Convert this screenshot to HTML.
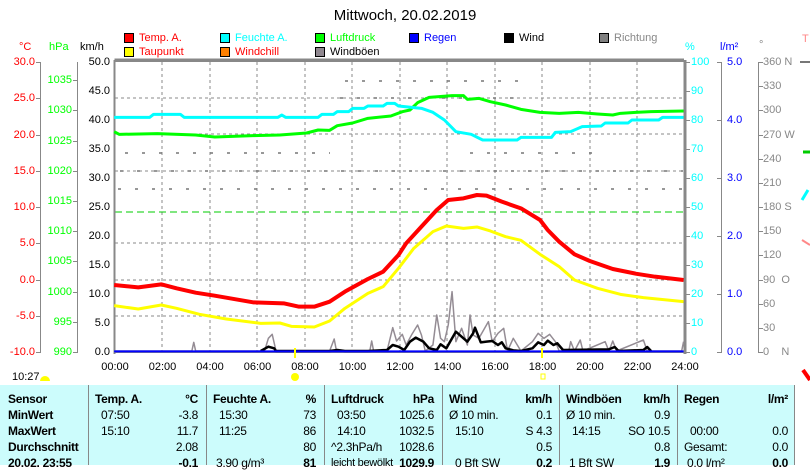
<!DOCTYPE html>
<html><head><meta charset="utf-8"><style>
body{margin:0;width:810px;height:465px;overflow:hidden;background:#fff;font-family:"Liberation Sans",Arial,sans-serif;position:relative}
.t{position:absolute;font-size:11px;line-height:12px;white-space:nowrap}
.r{text-align:right}
.tb{position:absolute;font-size:12px;line-height:14px;white-space:nowrap;letter-spacing:-0.3px}
.b{font-weight:bold}
</style></head><body>
<div class="t" style="left:0;width:810px;top:8px;text-align:center;font-size:15px;line-height:16px">Mittwoch, 20.02.2019</div>

<svg width="810" height="465" style="position:absolute;left:0;top:0">
<g stroke="#000" stroke-width="1">
<rect x="124.5" y="33.5" width="9" height="9" fill="#f00"/>
<rect x="220.5" y="33.5" width="9" height="9" fill="#0ff"/>
<rect x="315.5" y="33.5" width="9" height="9" fill="#0f0"/>
<rect x="409.5" y="33.5" width="9" height="9" fill="#00f"/>
<rect x="504.5" y="33.5" width="9" height="9" fill="#000"/>
<rect x="599.5" y="33.5" width="9" height="9" fill="#808080"/>
<rect x="124.5" y="47.5" width="9" height="9" fill="#ff0"/>
<rect x="220.5" y="47.5" width="9" height="9" fill="#ff8000"/>
<rect x="315.5" y="47.5" width="9" height="9" fill="#908890"/>
</g>
<g stroke="#888" stroke-width="1" stroke-dasharray="3,3">
<line x1="162" y1="62" x2="162" y2="352"/><line x1="210" y1="62" x2="210" y2="352"/>
<line x1="257" y1="62" x2="257" y2="352"/><line x1="305" y1="62" x2="305" y2="352"/>
<line x1="352" y1="62" x2="352" y2="352"/><line x1="400" y1="62" x2="400" y2="352"/>
<line x1="447" y1="62" x2="447" y2="352"/><line x1="495" y1="62" x2="495" y2="352"/>
<line x1="542" y1="62" x2="542" y2="352"/><line x1="590" y1="62" x2="590" y2="352"/>
<line x1="637" y1="62" x2="637" y2="352"/>
<line x1="115" y1="98" x2="683" y2="98"/><line x1="115" y1="134" x2="683" y2="134"/>
<line x1="115" y1="171" x2="683" y2="171"/><line x1="115" y1="243" x2="683" y2="243"/>
<line x1="115" y1="280" x2="683" y2="280"/><line x1="115" y1="316" x2="683" y2="316"/>
</g>
<line x1="115" y1="212" x2="683" y2="212" stroke="#0c0" stroke-dasharray="7,4"/>
<g stroke="#777" stroke-width="1.5" stroke-dasharray="3,14">
<line x1="345" y1="81" x2="520" y2="81"/>
<line x1="340" y1="98" x2="520" y2="98"/>
<line x1="125" y1="153" x2="330" y2="153"/><line x1="470" y1="153" x2="600" y2="153"/>
<line x1="120" y1="171" x2="683" y2="171"/>
<line x1="118" y1="189" x2="683" y2="189"/>
</g>
<rect x="114.5" y="61.5" width="570" height="291" fill="none" stroke="#888" stroke-width="1"/>
<line x1="114.5" y1="60" x2="684" y2="60" stroke="#888" stroke-width="3"/>
<line x1="685" y1="60" x2="685" y2="354" stroke="#888" stroke-width="3"/>
<line x1="114.5" y1="60" x2="114.5" y2="354" stroke="#888" stroke-width="2"/>
<g stroke="#888" stroke-width="1">
<line x1="40.5" y1="62" x2="40.5" y2="352"/>
<line x1="77.5" y1="62" x2="77.5" y2="352"/>
<line x1="721.5" y1="62" x2="721.5" y2="352"/>
<line x1="758.5" y1="62" x2="758.5" y2="352"/>
</g>
<g stroke="#888" stroke-width="1" id="ticks"></g>
<g transform="translate(100,55) scale(0.38267,0.33333)" fill="none" stroke-linejoin="round">
<polyline vector-effect="non-scaling-stroke" stroke="#948c94" stroke-width="1.5" points="37,888 240,888 245,862 250,888 430,888 440,850 450,838 460,888 600,888 612,852 618,888 705,888 710,858 715,888 750,888 765,818 775,858 790,838 800,870 815,838 830,810 840,840 850,888 870,870 880,780 890,850 900,860 910,810 920,710 930,860 945,820 960,870 967,780 975,840 990,850 1015,800 1025,860 1040,835 1055,820 1065,888 1080,850 1100,888 1130,860 1145,835 1160,850 1175,838 1190,860 1200,888 1225,888 1230,860 1240,888 1255,855 1262,888 1320,860 1330,888 1340,858 1350,888 1420,855 1430,888 1520,888 1525,860"/>
<polyline vector-effect="non-scaling-stroke" stroke="#000" stroke-width="2.5" points="420,888 440,875 455,880 460,888 600,888 620,885 640,888 700,888 750,885 765,870 780,875 795,885 810,860 825,848 845,860 860,880 880,885 890,868 905,880 915,860 930,830 945,845 960,860 975,835 980,818 995,862 1010,860 1025,858 1040,870 1050,862 1060,880 1080,886 1100,888 1130,880 1145,862 1160,870 1170,857 1185,870 1195,865 1210,885 1330,883 1345,876 1355,888 1420,885 1430,876 1440,888"/>
<polyline vector-effect="non-scaling-stroke" stroke="#0000ff" stroke-width="2" points="37,889 1525,889"/>
<polyline vector-effect="non-scaling-stroke" stroke="#ffff00" stroke-width="3" points="37,752 100,762 160,750 200,760 260,778 330,792 420,805 470,804 500,814 560,816 600,798 640,760 700,715 740,695 780,640 820,580 870,530 905,513 950,520 985,516 1020,528 1060,545 1100,556 1150,598 1200,635 1240,675 1300,700 1360,718 1420,728 1525,740"/>
<polyline vector-effect="non-scaling-stroke" stroke="#ff0000" stroke-width="4" points="37,690 100,697 160,688 200,700 250,713 300,722 400,742 480,745 520,755 560,755 600,740 640,710 700,672 740,650 780,600 800,565 840,515 880,465 910,435 950,430 985,420 1010,422 1050,440 1100,460 1150,495 1170,525 1200,560 1240,598 1280,618 1340,642 1400,656 1450,665 1525,675"/>
<polyline vector-effect="non-scaling-stroke" stroke="#00ff00" stroke-width="3" points="37,230 50,238 150,236 250,240 300,246 400,242 470,240 540,234 570,225 600,226 620,212 660,204 700,190 760,183 790,170 810,165 830,143 860,127 920,122 950,122 960,133 990,130 1020,140 1060,150 1100,163 1150,172 1200,175 1250,172 1300,177 1340,180 1360,175 1400,172 1440,170 1525,168"/>
<polyline vector-effect="non-scaling-stroke" stroke="#00ffff" stroke-width="3" points="37,187 130,187 140,178 210,178 220,187 465,187 475,180 485,187 570,187 580,178 610,178 620,170 650,170 660,160 690,160 700,153 740,153 750,145 770,145 780,153 840,160 870,172 900,195 930,230 970,238 1000,255 1090,255 1100,247 1180,247 1190,232 1230,230 1260,215 1310,213 1320,204 1380,204 1390,195 1460,195 1470,187 1525,187"/>
</g>
<line x1="295" y1="348" x2="295" y2="358" stroke="#ff0" stroke-width="2"/>
<line x1="542" y1="348" x2="542" y2="358" stroke="#ff0" stroke-width="2"/>
<circle cx="295" cy="377" r="4" fill="#ff0"/>
<rect x="541" y="374" width="4" height="5" fill="none" stroke="#ff0"/>
<path d="M40 381 a5 5 0 0 1 10 0 z" fill="#ff0"/>
<line x1="800" y1="62" x2="810" y2="62" stroke="#777" stroke-width="2"/>
<line x1="803" y1="152" x2="810" y2="152" stroke="#0c0" stroke-width="3"/>
<path d="M802 200 L808 190" stroke="#0ff" stroke-width="3"/>
<path d="M802 240 L810 245" stroke="#f88" stroke-width="2"/>
<path d="M803 370 L810 380" stroke="#f00" stroke-width="4"/>
<rect x="0" y="385" width="795" height="80" fill="#ccfcfc"/>
<g stroke="#888" stroke-width="1">
<line x1="88.5" y1="385" x2="88.5" y2="465"/><line x1="206.5" y1="385" x2="206.5" y2="465"/>
<line x1="324.5" y1="385" x2="324.5" y2="465"/><line x1="442.5" y1="385" x2="442.5" y2="465"/>
<line x1="559.5" y1="385" x2="559.5" y2="465"/><line x1="677.5" y1="385" x2="677.5" y2="465"/>
<line x1="794.5" y1="385" x2="794.5" y2="465"/>
</g>
</svg>

<div class="t" style="left:139px;top:32px;color:#f00">Temp. A.</div>
<div class="t" style="left:235px;top:32px;color:#0ff">Feuchte A.</div>
<div class="t" style="left:330px;top:32px;color:#0f0">Luftdruck</div>
<div class="t" style="left:424px;top:32px;color:#00f">Regen</div>
<div class="t" style="left:519px;top:32px;color:#000">Wind</div>
<div class="t" style="left:614px;top:32px;color:#888">Richtung</div>
<div class="t" style="left:139px;top:46px;color:#f00">Taupunkt</div>
<div class="t" style="left:235px;top:46px;color:#f00">Windchill</div>
<div class="t" style="left:330px;top:46px;color:#000">Windböen</div>

<div class="t" style="left:19px;top:41px;color:#f00">°C</div>
<div class="t" style="left:49px;top:41px;color:#0f0">hPa</div>
<div class="t" style="left:80px;top:41px">km/h</div>
<div class="t" style="left:685px;top:41px;color:#0ff">%</div>
<div class="t" style="left:720px;top:41px;color:#00f">l/m²</div>
<div class="t" style="left:759px;top:39px;color:#888">°</div>
<div class="t" style="left:802px;top:33px;color:#f88">T</div>

<div id="labels"></div>

<div class="t" style="left:12px;top:371px">10:27</div>

<div class="tb b" style="left:8px;top:392px">Sensor</div>
<div class="tb b" style="left:8px;top:408px">MinWert</div>
<div class="tb b" style="left:8px;top:424px">MaxWert</div>
<div class="tb b" style="left:8px;top:440px">Durchschnitt</div>
<div class="tb b" style="left:8px;top:456px">20.02. 23:55</div>

<div class="tb b" style="left:95px;top:392px">Temp. A.</div><div class="tb b r" style="right:612px;top:392px">°C</div>
<div class="tb" style="left:101px;top:408px">07:50</div><div class="tb r" style="right:612px;top:408px">-3.8</div>
<div class="tb" style="left:101px;top:424px">15:10</div><div class="tb r" style="right:612px;top:424px">11.7</div>
<div class="tb r" style="right:612px;top:440px">2.08</div>
<div class="tb b r" style="right:612px;top:456px">-0.1</div>

<div class="tb b" style="left:213px;top:392px">Feuchte A.</div><div class="tb b r" style="right:494px;top:392px">%</div>
<div class="tb" style="left:219px;top:408px">15:30</div><div class="tb r" style="right:494px;top:408px">73</div>
<div class="tb" style="left:219px;top:424px">11:25</div><div class="tb r" style="right:494px;top:424px">86</div>
<div class="tb r" style="right:494px;top:440px">80</div>
<div class="tb" style="left:216px;top:456px">3.90 g/m³</div><div class="tb b r" style="right:494px;top:456px">81</div>

<div class="tb b" style="left:331px;top:392px">Luftdruck</div><div class="tb b r" style="right:376px;top:392px">hPa</div>
<div class="tb" style="left:337px;top:408px">03:50</div><div class="tb r" style="right:376px;top:408px">1025.6</div>
<div class="tb" style="left:337px;top:424px">14:10</div><div class="tb r" style="right:376px;top:424px">1032.5</div>
<div class="tb" style="left:331px;top:440px">^2.3hPa/h</div><div class="tb r" style="right:376px;top:440px">1028.6</div>
<div class="tb" style="left:331px;top:456px;font-size:11px">leicht bewölkt</div><div class="tb b r" style="right:376px;top:456px">1029.9</div>

<div class="tb b" style="left:449px;top:392px">Wind</div><div class="tb b r" style="right:258px;top:392px">km/h</div>
<div class="tb" style="left:449px;top:408px">Ø 10 min.</div><div class="tb r" style="right:258px;top:408px">0.1</div>
<div class="tb" style="left:455px;top:424px">15:10</div><div class="tb r" style="right:258px;top:424px">S 4.3</div>
<div class="tb r" style="right:258px;top:440px">0.5</div>
<div class="tb" style="left:455px;top:456px">0 Bft SW</div><div class="tb b r" style="right:258px;top:456px">0.2</div>

<div class="tb b" style="left:566px;top:392px">Windböen</div><div class="tb b r" style="right:140px;top:392px">km/h</div>
<div class="tb" style="left:566px;top:408px">Ø 10 min.</div><div class="tb r" style="right:140px;top:408px">0.9</div>
<div class="tb" style="left:572px;top:424px">14:15</div><div class="tb r" style="right:140px;top:424px">SO 10.5</div>
<div class="tb r" style="right:140px;top:440px">0.8</div>
<div class="tb" style="left:569px;top:456px">1 Bft SW</div><div class="tb b r" style="right:140px;top:456px">1.9</div>

<div class="tb b" style="left:684px;top:392px">Regen</div><div class="tb b r" style="right:22px;top:392px">l/m²</div>
<div class="tb" style="left:690px;top:424px">00:00</div><div class="tb r" style="right:22px;top:424px">0.0</div>
<div class="tb" style="left:684px;top:440px">Gesamt:</div><div class="tb r" style="right:22px;top:440px">0.0</div>
<div class="tb" style="left:687px;top:456px">0.0 l/m²</div><div class="tb b r" style="right:22px;top:456px">0.0</div>

<script>
var L=document.getElementById('labels'),T=document.getElementById('ticks'),h='',s='';
function lab(x,y,txt,col,right){h+='<div class="t'+(right?' r':'')+'" style="'+(right?'right:'+(810-x):'left:'+x)+'px;top:'+(y-6)+'px;color:'+col+'">'+txt+'</div>';}
function tk(x1,x2,y){s+='<line x1="'+x1+'" x2="'+x2+'" y1="'+(y+.5)+'" y2="'+(y+.5)+'"/>';}
for(var i=0;i<=8;i++){var y=Math.round(62+i*36.25);lab(35,y,(30-5*i).toFixed(1),'#f00',1);tk(36,41,y);}
for(var v=1035;v>=990;v-=5){var y=Math.round(352-(v-990)*290/48);lab(72,y,v,'#0f0',1);tk(73,78,y);}
for(var i=0;i<=10;i++){var y=Math.round(62+i*29);lab(110,y,(50-5*i).toFixed(1),'#000',1);lab(691,y,100-10*i,'#0ff',0);tk(685,690,y);}
for(var i=0;i<=5;i++){var y=Math.round(62+i*58);lab(727,y,(5-i).toFixed(1),'#00f',0);tk(717,722,y);}
var dn={360:'360 N',270:'270 W',180:'180 S',90:'90&nbsp;&nbsp;O',0:'0&nbsp;&nbsp;&nbsp;&nbsp;N'};
for(var i=0;i<=12;i++){var d=360-30*i,y=Math.round(62+i*24.17);lab(763,y,dn[d]||d,'#888',0);tk(758,763,y);}
for(var i=0;i<=12;i++){var x=115+i*47.5;h+='<div class="t" style="left:'+(x-20)+'px;width:40px;text-align:center;top:361px">'+(i*2<10?'0':'')+(i*2)+':00</div>';}
L.innerHTML=h;T.innerHTML=s;
</script>
</body></html>
